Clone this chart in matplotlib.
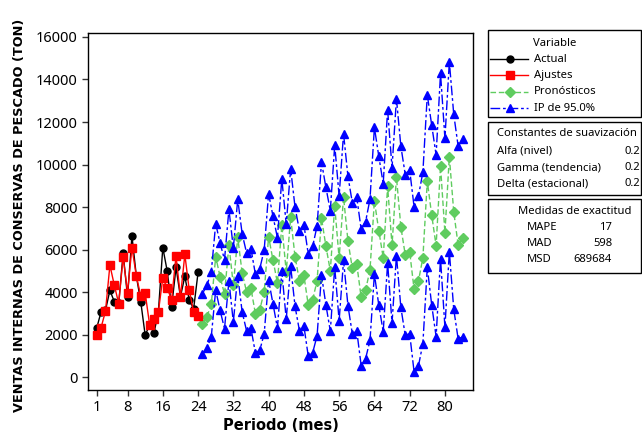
import matplotlib
matplotlib.use('Agg')
import matplotlib.pyplot as plt
from matplotlib.lines import Line2D
from matplotlib.patches import Rectangle

plt.rcParams['font.family'] = ['Noto Sans', 'DejaVu Sans']

# periodo 1-24: datos reales y ajustes
actual = [2300, 3080, 3150, 4090, 3550, 3470, 5820, 3780, 6650, 4750, 3550, 1980,
          2450, 2080, 3075, 6100, 4990, 3310, 5160, 3780, 4750, 3620, 3230, 4925]
ajustes = [2008, 2337, 3106, 5270, 4330, 3466, 5663, 3984, 6100, 4753, 3827, 3969,
           2478, 2760, 3075, 4675, 4173, 3655, 5710, 3780, 5772, 4094, 3075, 2886]

# periodo 25-84: pronosticos y limites IP 95%
pronosticos = [2525, 2839, 3435, 5663, 4722, 3906, 6212, 4330, 6573, 4910, 4016, 4173,
               2996, 3184, 4016, 6604, 5506, 4440, 7153, 4957, 7515, 5663, 4534, 4800,
               3388, 3655, 4534, 7467, 6165, 5004, 8047, 5585, 8470, 6410, 5114, 5318,
               3750, 4094, 5050, 8298, 6886, 5625, 8970, 6200, 9410, 7075, 5750, 5900,
               4141, 4534, 5616, 9224, 7624, 6180, 9929, 6792, 10369, 7780, 6212, 6525]
ip_sup = [3935, 4319, 4955, 7223, 6302, 5526, 7892, 6070, 8363, 6750, 5846, 6043,
          4846, 5104, 5986, 8634, 7566, 6560, 9333, 7187, 9805, 7993, 6884, 7180,
          5788, 6155, 7114, 10127, 8925, 7834, 10917, 8515, 11450, 9450, 8194, 8458,
          6950, 7314, 8370, 11748, 10386, 9105, 12570, 9850, 13100, 10865, 9530, 9750,
          8021, 8534, 9646, 13274, 11854, 10450, 14289, 11232, 14829, 12360, 10862, 11185]
ip_inf = [1115, 1359, 1915, 4103, 3142, 2286, 4532, 2590, 4783, 3070, 2186, 2303,
          1146, 1264, 2046, 4574, 3446, 2320, 4973, 2727, 5225, 3333, 2184, 2420,
          988, 1155, 1954, 4807, 3405, 2174, 5177, 2655, 5490, 3370, 2034, 2178,
          550, 874, 1730, 4848, 3386, 2145, 5370, 2550, 5720, 3285, 1970, 2050,
          261, 534, 1586, 5174, 3394, 1910, 5569, 2352, 5909, 3200, 1800, 1900]

periodo_real = list(range(1, 25))
periodo_pron = list(range(25, 85))
xticks = [1, 8, 16, 24, 32, 40, 48, 56, 64, 72, 80]
yticks = list(range(0, 16001, 2000))

verde = '#5FCC5F'
W, H = 642, 437

fig = plt.figure(figsize=(6.42, 4.37), dpi=100)
ax = fig.add_axes([88.3 / W, 1 - 390 / H, (472.7 - 88.3) / W, (390 - 32.7) / H])

dash_ip = (0, (7, 2, 2, 2))
ax.plot(periodo_real, actual, color='black', lw=1, marker='o', ms=5, zorder=3)
ax.plot(periodo_real, ajustes, color='red', lw=1, marker='s', ms=5.5, zorder=4)
ax.plot(periodo_pron, pronosticos, color=verde, lw=1, ls=(0, (4, 2)), marker='D', ms=5, zorder=3)
ax.plot(periodo_pron, ip_sup, color='blue', lw=1, ls=dash_ip, marker='^', ms=6, zorder=5)
ax.plot(periodo_pron, ip_inf, color='blue', lw=1, ls=dash_ip, marker='^', ms=6, zorder=5)

ax.set_xlim(-0.9, 86.3)
ax.set_ylim(-600, 16200)
ax.set_xticks(xticks)
ax.set_yticks(yticks)
ax.tick_params(labelsize=10.5, length=4, width=1, direction='out', color='#333333')
for s in ax.spines.values():
    s.set_linewidth(1)
ax.set_xlabel('Periodo (mes)', fontsize=10.5, fontweight='bold', family='DejaVu Sans',
              labelpad=2)
ax.set_ylabel('VENTAS INTERNAS DE CONSERVAS DE PESCADO (TON)', fontsize=9.3,
              fontweight='bold', family='DejaVu Sans', labelpad=4)
ax.yaxis.set_label_coords(-0.163, 0.49)


def fx(x):
    return x / W


def fy(y):
    return 1 - y / H


# cajas de la derecha
for top, bot in [(30, 117), (122, 195), (199, 273)]:
    fig.patches.append(Rectangle((fx(488), fy(bot)), fx(641) - fx(488), fy(top) - fy(bot),
                                 transform=fig.transFigure, fill=False, lw=1, ec='black'))

fs = 8.1
fig.text(fx(555), fy(43), 'Variable', fontsize=fs, ha='center', va='center')
entradas = [('Actual', 'black', '-', 'o', 5), ('Ajustes', 'red', '-', 's', 5.5),
            ('Pronósticos', verde, (0, (4, 2)), 'D', 5), ('IP de 95.0%', 'blue', dash_ip, '^', 6)]
for i, (txt, c, ls, m, ms) in enumerate(entradas):
    yy = fy(59 + i * 16.4)
    fig.add_artist(Line2D([fx(490), fx(528)], [yy, yy], color=c, ls=ls, lw=1,
                          transform=fig.transFigure))
    fig.add_artist(Line2D([fx(510)], [yy], color=c, marker=m, ms=ms, ls='none',
                          transform=fig.transFigure))
    fig.text(fx(534), yy, txt, fontsize=fs, ha='left', va='center')

fig.text(fx(567), fy(133), 'Constantes de suavización', fontsize=fs, ha='center', va='center')
for i, (txt, v) in enumerate([('Alfa (nivel)', '0.2'), ('Gamma (tendencia)', '0.2'),
                              ('Delta (estacional)', '0.2')]):
    yy = fy(151 + i * 16.5)
    fig.text(fx(497), yy, txt, fontsize=fs, ha='left', va='center')
    fig.text(fx(640), yy, v, fontsize=fs, ha='right', va='center')

fig.text(fx(575), fy(211), 'Medidas de exactitud', fontsize=fs, ha='center', va='center')
for i, (txt, v) in enumerate([('MAPE', '17'), ('MAD', '598'), ('MSD', '689684')]):
    yy = fy(227 + i * 16.5)
    fig.text(fx(527), yy, txt, fontsize=fs, ha='left', va='center')
    fig.text(fx(612), yy, v, fontsize=fs, ha='right', va='center')

fig.savefig('out.png', dpi=100)
